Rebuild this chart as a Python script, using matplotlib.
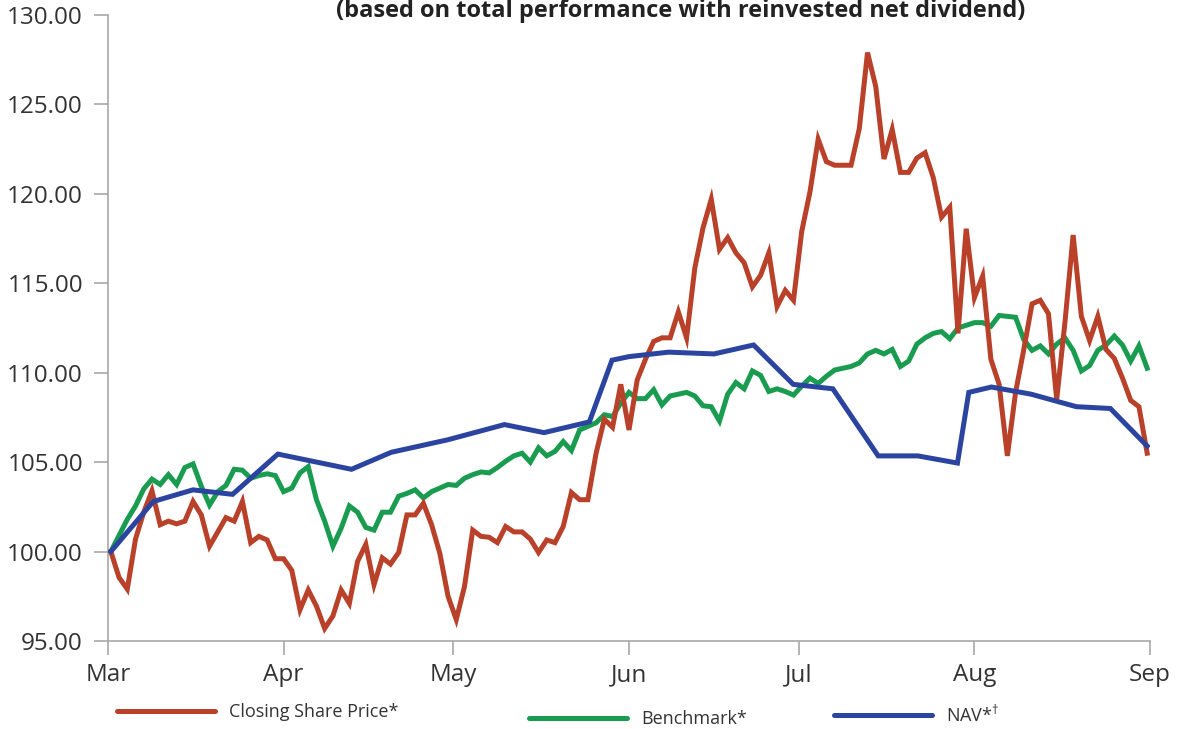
import matplotlib
matplotlib.use("Agg")
import matplotlib.pyplot as plt
import matplotlib.dates as mdates
from matplotlib.lines import Line2D
import numpy as np
import pandas as pd

plt.rcParams['font.family'] = ['Open Sans', 'DejaVu Sans']
plt.rcParams['mathtext.fontset'] = 'custom'
plt.rcParams['mathtext.rm'] = 'Open Sans'
plt.rcParams['mathtext.it'] = 'Open Sans:italic'
plt.rcParams['mathtext.bf'] = 'Open Sans:bold'

# ---------------- data ----------------
series_start = "2021-03-01 12:00"
series_end = "2021-08-31 12:00"

closing_share_price = [
    100.0, 98.55, 97.9, 100.7, 102.2, 103.4, 101.5, 101.7, 101.55, 101.7,
    102.8, 102.05, 100.3, 101.1, 101.9, 101.7, 102.8, 100.5, 100.85, 100.65,
    99.6, 99.6, 98.95, 96.75, 97.85, 96.95, 95.7, 96.4, 97.85, 97.1,
    99.45, 100.4, 98.15, 99.65, 99.3, 99.95, 102.05, 102.05, 102.7, 101.5,
    99.9, 97.5, 96.2, 98.05, 101.2, 100.85, 100.8, 100.5, 101.4, 101.1,
    101.1, 100.7, 99.95, 100.65, 100.5, 101.4, 103.3, 102.9, 102.9, 105.5,
    107.4, 106.95, 109.35, 106.8, 109.6, 110.75, 111.75, 111.95, 111.95, 113.4,
    111.95, 115.85, 118.1, 119.7, 116.9, 117.55, 116.7, 116.15, 114.8, 115.45,
    116.7, 113.7, 114.6, 114.05, 117.9, 120.1, 123.05, 121.8, 121.6, 121.6,
    121.6, 123.65, 127.9, 126.0, 121.95, 123.6, 121.2, 121.2, 122.0, 122.3,
    120.9, 118.7, 119.25, 112.2, 118.05, 114.2, 115.4, 110.75, 109.35, 105.35,
    108.9, 111.3, 113.85, 114.05, 113.3, 108.5, 112.8, 117.7, 113.15, 111.8,
    113.15, 111.3, 110.8, 109.7, 108.45, 108.1, 105.5,
]

benchmark = [
    100.0, 100.9, 101.8, 102.55, 103.5, 104.05, 103.75, 104.3, 103.75, 104.7,
    104.9, 103.65, 102.6, 103.35, 103.7, 104.6, 104.55, 104.1, 104.25, 104.35,
    104.25, 103.35, 103.55, 104.4, 104.75, 102.9, 101.7, 100.3, 101.3, 102.55,
    102.2, 101.35, 101.2, 102.2, 102.2, 103.1, 103.25, 103.45, 103.0, 103.35,
    103.55, 103.75, 103.7, 104.1, 104.3, 104.45, 104.4, 104.7, 105.05, 105.35,
    105.5, 105.0, 105.8, 105.35, 105.6, 106.15, 105.65, 106.8, 107.0, 107.2,
    107.65, 107.55, 108.3, 108.9, 108.55, 108.55, 109.05, 108.2, 108.7, 108.8,
    108.9, 108.7, 108.15, 108.1, 107.3, 108.8, 109.45, 109.1, 110.1, 109.85,
    108.95, 109.1, 108.95, 108.75, 109.25, 109.7, 109.4, 109.8, 110.15, 110.25,
    110.35, 110.55, 111.05, 111.25, 111.05, 111.3, 110.35, 110.65, 111.6, 111.95,
    112.2, 112.3, 111.9, 112.5, 112.65, 112.8, 112.8, 112.6, 113.2, 113.15,
    113.1, 111.85, 111.25, 111.5, 111.05, 111.6, 111.95, 111.25, 110.1, 110.4,
    111.25, 111.55, 112.05, 111.55, 110.65, 111.5, 110.25,
]

nav_dates = [
    "2021-03-01 12:00", "2021-03-09 00:00", "2021-03-16 00:00", "2021-03-23 00:00",
    "2021-03-31 00:00", "2021-04-13 00:00", "2021-04-20 00:00", "2021-04-30 00:00",
    "2021-05-10 00:00", "2021-05-17 00:00", "2021-05-25 00:00", "2021-05-29 00:00",
    "2021-06-01 00:00", "2021-06-08 00:00", "2021-06-16 00:00", "2021-06-23 00:00",
    "2021-06-30 00:00", "2021-07-07 00:00", "2021-07-15 00:00", "2021-07-22 00:00",
    "2021-07-29 00:00", "2021-07-31 00:00", "2021-08-04 00:00", "2021-08-11 00:00",
    "2021-08-19 00:00", "2021-08-25 00:00", "2021-08-31 12:00",
]
nav_values = [
    100.0, 102.8, 103.45, 103.2,
    105.45, 104.6, 105.55, 106.25,
    107.1, 106.65, 107.25, 110.7,
    110.9, 111.15, 111.05, 111.55,
    109.35, 109.1, 105.35, 105.35,
    104.95, 108.9, 109.2, 108.8,
    108.1, 108.0, 105.9,
]

series_labels = ["Closing Share Price*", "Benchmark*", "NAV*$^{\\mathrm{\u2020}}$"]
series_colors = ["#B9412A", "#1A9C50", "#2B44A0"]
title_text = "(based on total performance with reinvested net dividend)"
month_start = "2021-03-01"
month_end = "2021-09-01"
y_ticks = [95, 100, 105, 110, 115, 120, 125, 130]

# ---------------- figure ----------------
fig = plt.figure(figsize=(11.79, 7.29), dpi=100)
ax = fig.add_axes([108 / 1179, 1 - 641 / 729, (1150 - 108) / 1179, (641 - 15) / 729])

price_dates = pd.date_range(series_start, series_end, periods=len(closing_share_price))
bench_dates = pd.date_range(series_start, series_end, periods=len(benchmark))
nav_x = pd.to_datetime(nav_dates, format="%Y-%m-%d %H:%M")

lw = 3.6
l_price, = ax.plot(price_dates, closing_share_price, color=series_colors[0], lw=lw,
                   solid_joinstyle='miter', zorder=3)
l_bench, = ax.plot(bench_dates, benchmark, color=series_colors[1], lw=lw,
                   solid_joinstyle='miter', zorder=2)
l_nav, = ax.plot(nav_x, nav_values, color=series_colors[2], lw=lw,
                 solid_joinstyle='miter', zorder=4)

ax.set_xlim(pd.Timestamp(month_start), pd.Timestamp(month_end))
ax.set_ylim(y_ticks[0], y_ticks[-1])

months = pd.date_range(month_start, month_end, freq="MS")
ax.set_xticks(months)
ax.set_xticklabels([m.strftime("%b") for m in months])
ax.set_yticks(y_ticks)
ax.set_yticklabels([f"{v:.2f}" for v in y_ticks])

spine_color = "#A8A8A8"
for s in ["top", "right"]:
    ax.spines[s].set_visible(False)
for s in ["left", "bottom"]:
    ax.spines[s].set_color(spine_color)
    ax.spines[s].set_linewidth(1.2)

ax.tick_params(axis="both", colors=spine_color, labelcolor="#333333",
               labelsize=17.5, length=10, width=1.2, direction="out")
ax.tick_params(axis="y", pad=8)
ax.tick_params(axis="x", pad=6)

fig.text(681 / 1179, 1 - 17 / 729, title_text, ha="center", va="baseline",
         fontsize=17, fontweight="bold", color="#222222")

# legend entries placed separately as in reference
legend_specs = [
    (l_price, series_labels[0], 117 / 1179, 1 - 712 / 729),
    (l_bench, series_labels[1], 529 / 1179, 1 - 719 / 729),
    (l_nav, series_labels[2], 834 / 1179, 1 - 715 / 729),
]
for line, label, lx, ly in legend_specs:
    h = Line2D([0], [0], color=line.get_color(), lw=lw, solid_capstyle="round")
    leg = fig.legend(handles=[h], labels=[label], loc="center left",
                     bbox_to_anchor=(lx, ly), frameon=False, fontsize=13,
                     handlelength=5.4, handletextpad=0.8, borderaxespad=0,
                     borderpad=0)
    for t in leg.get_texts():
        t.set_color("#333333")

fig.savefig("out.png", dpi=100)
